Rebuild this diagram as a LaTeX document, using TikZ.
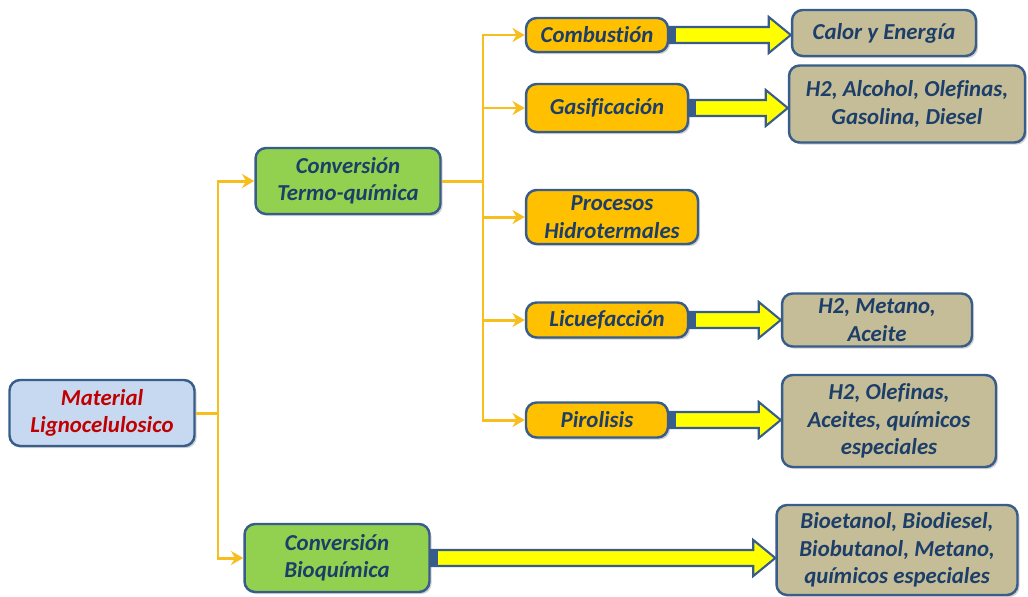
\documentclass[tikz,border=0pt]{standalone}
\usepackage{fontspec}
\setmainfont{Carlito}[Ligatures=NoCommon]
\usetikzlibrary{arrows.meta,calc,shadows}
\definecolor{edgeblue}{RGB}{56,93,138}
\definecolor{textblue}{RGB}{28,62,105}
\definecolor{textred}{RGB}{192,0,0}
\definecolor{fillblue}{RGB}{198,217,241}
\definecolor{fillgreen}{RGB}{146,208,80}
\definecolor{fillorange}{RGB}{255,192,0}
\definecolor{filltan}{RGB}{196,189,151}
\definecolor{linkyellow}{RGB}{248,190,30}
\definecolor{arrowyellow}{RGB}{255,255,0}

\newcommand{\blockarrow}[2]{%
  \filldraw[draw=edgeblue,line width=1.2pt,fill=arrowyellow,line join=miter]
    ($(#1.east)+(0,-8)$) -- ($(#2.west |- #1.east)+(-22,-8)$)
    -- ($(#2.west |- #1.east)+(-22,-18)$) -- (#2.west |- #1.east)
    -- ($(#2.west |- #1.east)+(-22,18)$) -- ($(#2.west |- #1.east)+(-22,8)$)
    -- ($(#1.east)+(0,8)$) -- cycle;
  \fill[edgeblue] ($(#1.east)+(0,-8)$) rectangle ($(#1.east)+(7,8)$);}

\begin{document}
\begin{tikzpicture}[x=0.02cm,y=-0.02cm,
  box/.style={draw=edgeblue,line width=1.4pt,rounded corners=6pt,align=center,
    inner sep=0pt,text=textblue,
    font=\fontsize{13}{15.6}\selectfont\bfseries\itshape,
    drop shadow={shadow xshift=1.2pt,shadow yshift=-1.2pt,opacity=0.35}},
  source/.style={box,fill=fillblue,text=textred},
  route/.style={box,fill=fillgreen},
  process/.style={box,fill=fillorange},
  product/.style={box,fill=filltan},
  link/.style={draw=linkyellow,line width=1.7pt},
  linkarrow/.style={link,-{Stealth[length=7pt,width=8pt]}}]
  \useasboundingbox (0,0) rectangle (1028,596);

  %% Source
  \node[source,minimum width=3.7cm,minimum height=1.32cm] (mat) at (102,413)
        {Material\\Lignocelulosico};

  %% Routes
  \node[route,minimum width=3.7cm,minimum height=1.32cm] (termo) at (348,181)
        {Conversión\\Termo-química};
  \node[route,minimum width=3.7cm,minimum height=1.36cm] (bio) at (337,558)
        {Conversión\\Bioquímica};

  %% Processes
  \node[process,minimum width=2.84cm,minimum height=0.68cm] (comb) at (597,35) {Combustión};
  \node[process,minimum width=3.24cm,minimum height=0.96cm] (gasif) at (607,108) {Gasificación};
  \node[process,minimum width=3.44cm,minimum height=1.08cm] (hidro) at (612,217) {Procesos\\Hidrotermales};
  \node[process,minimum width=3.24cm,minimum height=0.7cm] (licue) at (607,320) {Licuefacción};
  \node[process,minimum width=2.84cm,minimum height=0.7cm] (piro) at (597,420) {Pirolisis};

  %% Products
  \node[product,minimum width=3.68cm,minimum height=0.92cm] (calor) at (884,33) {Calor y Energía};
  \node[product,minimum width=4.72cm,minimum height=1.54cm] (gasprod) at (907,104)
        {H2, Alcohol, Olefinas,\\Gasolina, Diesel};
  \node[product,minimum width=3.8cm,minimum height=1.06cm] (licprod) at (877,320)
        {H2, Metano,\\Aceite};
  \node[product,minimum width=4.28cm,minimum height=1.84cm] (piroprod) at (889,421)
        {H2, Olefinas,\\Aceites, químicos\\especiales};
  \node[product,minimum width=4.82cm,minimum height=1.8cm] (bioprod) at (897,550)
        {Bioetanol, Biodiesel,\\Biobutanol, Metano,\\químicos especiales};

  %% Branches
  \coordinate (split) at (218,413);
  \coordinate (termosplit) at (483,181);
  \draw[link] (mat.east) -- (split);
  \draw[linkarrow] (split) |- (termo.west);
  \draw[linkarrow] (split) |- (bio.west);
  \draw[link] (termo.east) -- (termosplit);
  \foreach \p in {comb,gasif,hidro,licue,piro}
    \draw[linkarrow] (termosplit) |- (\p.west);

  %% Block arrows
  \blockarrow{comb}{calor}
  \blockarrow{gasif}{gasprod}
  \blockarrow{licue}{licprod}
  \blockarrow{piro}{piroprod}
  \blockarrow{bio}{bioprod}
\end{tikzpicture}
\end{document}
